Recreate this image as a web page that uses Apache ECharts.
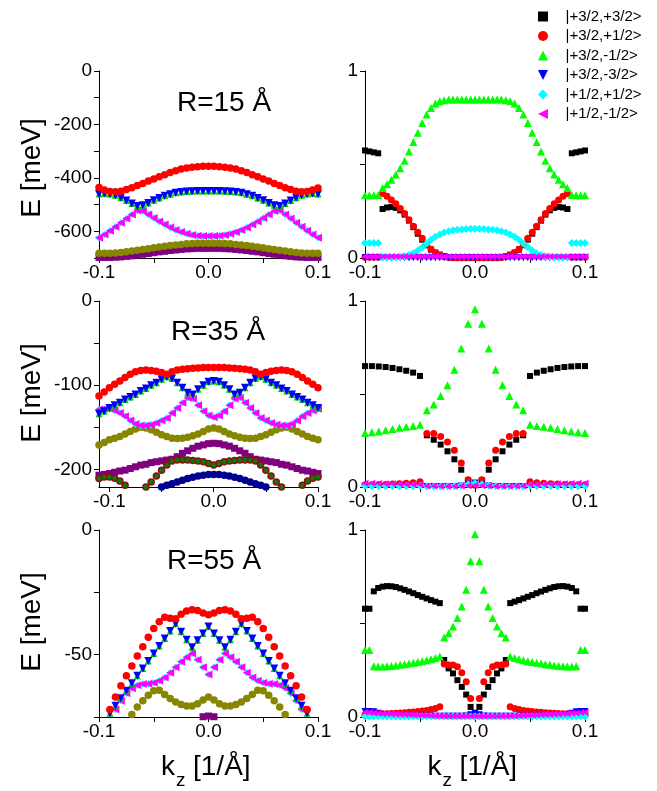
<!DOCTYPE html>
<html>
<head>
<meta charset="utf-8">
<script src="https://cdn.jsdelivr.net/npm/echarts@6/dist/echarts.min.js"></script>
<style>html,body{margin:0;padding:0;background:#fff;}#c{width:657px;height:791px;}</style>
</head>
<body>
<div id="c"></div>
<script>
// ---------- k_z grids ----------
const kzL = [-0.1,-0.095,-0.09,-0.085,-0.08,-0.075,-0.07,-0.065,-0.06,-0.055,-0.05,-0.045,-0.04,-0.035,-0.03,-0.025,-0.02,-0.015,-0.01,-0.005,0,0.005,0.01,0.015,0.02,0.025,0.03,0.035,0.04,0.045,0.05,0.055,0.06,0.065,0.07,0.075,0.08,0.085,0.09,0.095,0.1];
const kzM = [-0.11,-0.105,-0.1,-0.095,-0.09,-0.085,-0.08,-0.075,-0.07,-0.065,-0.06,-0.055,-0.05,-0.045,-0.04,-0.035,-0.03,-0.025,-0.02,-0.015,-0.01,-0.005,0,0.005,0.01,0.015,0.02,0.025,0.03,0.035,0.04,0.045,0.05,0.055,0.06,0.065,0.07,0.075,0.08,0.085,0.09,0.095,0.1];
const kzR = [-0.1,-0.096,-0.092,-0.088,-0.084,-0.08,-0.076,-0.072,-0.068,-0.064,-0.06,-0.056,-0.052,-0.048,-0.044,-0.04,-0.036,-0.032,-0.028,-0.024,-0.02,-0.016,-0.012,-0.008,-0.004,0,0.004,0.008,0.012,0.016,0.02,0.024,0.028,0.032,0.036,0.04,0.044,0.048,0.052,0.056,0.06,0.064,0.068,0.072,0.076,0.08,0.084,0.088,0.092,0.096,0.1];
const kzR6 = [-0.1,-0.09375,-0.0875,-0.08125,-0.075,-0.06875,-0.0625,-0.05625,-0.05,-0.04375,-0.0375,-0.03125,-0.025,-0.01875,-0.0125,-0.00625,0,0.00625,0.0125,0.01875,0.025,0.03125,0.0375,0.04375,0.05,0.05625,0.0625,0.06875,0.075,0.08125,0.0875,0.09375,0.1];

// ---------- R=15 Å energies [meV] ----------
const red15 = [-436,-445,-451,-452,-450,-444,-437,-429,-421,-412,-404,-396,-388,-380,-373,-367,-363,-360,-358,-357,-357,-357,-358,-360,-363,-367,-373,-380,-388,-396,-404,-412,-421,-429,-437,-444,-450,-452,-451,-445,-438];
const blue15 = [-460,-459,-460,-465,-474,-485,-496,-505,-503,-494,-484,-475,-467,-461,-456,-453,-451,-450,-449,-449,-449,-449,-449,-450,-451,-453,-456,-461,-467,-475,-484,-494,-503,-505,-496,-485,-474,-465,-460,-459,-460];
const mag15 = [-624,-612,-598,-583,-568,-552,-537,-522,-524,-537,-550,-563,-575,-586,-595,-603,-609,-614,-617,-618,-618,-618,-617,-614,-609,-603,-595,-586,-575,-563,-550,-537,-524,-522,-537,-552,-568,-583,-598,-612,-624];
const olive15 = [-682,-682,-682,-681,-679,-677,-674,-671,-668,-665,-662,-659,-656,-653,-651,-649,-647,-646,-645,-645,-645,-645,-645,-646,-647,-649,-651,-653,-656,-659,-662,-665,-668,-671,-674,-677,-679,-681,-682,-682,-682];
const purple15 = [-698,-698,-698,-697,-696,-694,-692,-689,-686,-683,-680,-677,-675,-672,-670,-668,-666,-665,-664,-664,-664,-664,-664,-665,-666,-668,-670,-672,-675,-677,-680,-683,-686,-689,-692,-694,-696,-697,-698,-698,-698];

// ---------- R=35 Å energies [meV] ----------
const red35 = [-113,-108,-103,-99,-95,-91,-87,-84,-82.5,-82,-82.5,-83.5,-85,-87,-84,-82,-81,-80.5,-80,-79.5,-79,-79,-79,-79,-79,-79.5,-80,-80.5,-81,-82,-84,-87,-85,-83.5,-82.5,-82,-82.5,-84,-87,-91,-95,-99,-103];
const blue35 = [-134,-131,-127,-124,-121,-117,-114,-111,-107,-104,-100,-97,-93,-90,-92,-97,-103,-109,-111,-105,-100,-96,-95,-96,-100,-105,-111,-109,-103,-97,-92,-90,-93,-97,-100,-104,-107,-111,-114,-117,-121,-124,-127];
const mag35 = [-129,-128,-128,-130,-133,-137,-142,-146,-148,-148,-147,-145,-142,-139,-133,-127,-121,-115,-116,-124,-131,-136,-138,-136,-131,-124,-116,-115,-121,-127,-133,-139,-142,-145,-147,-148,-148,-146,-142,-137,-133,-130,-128];
const olive35 = [-171,-168,-165,-163,-161,-158,-155,-152,-150,-151,-153,-156,-159,-161,-163,-163.5,-163,-162,-160,-158,-155,-152,-151,-152,-155,-158,-160,-162,-163,-163.5,-163,-161,-159,-156,-153,-151,-150,-152,-155,-158,-161,-163,-165];
const purple35 = [-207,-206,-205,-203.5,-202,-201,-199,-197,-195,-194,-192,-191,-190,-189,-188,-185,-181,-178,-175,-172.5,-171,-169.5,-169,-169.5,-171,-172.5,-175,-178,-181,-185,-188,-189,-190,-191,-192,-194,-195,-197,-199,-201,-202,-203.5,-205];
const green35 = [-211,-209,-209,-210.5,-214,-219,-222,-230,-229,-221,-215,-208,-201,-195,-190,-189,-189,-189,-189.5,-190,-191,-193,-195,-193,-191,-190,-189.5,-189,-189,-189,-190,-195,-201,-208,-215,-221,-229,-230,-222,-219,-214,-210.5,-209];
const navy35 = [-233,-234,-235,-236,-237,-237,-236,-235,-233,-230,-227,-224,-221,-219,-217,-215,-213,-211,-209.5,-208,-207,-206,-206,-206,-207,-208,-209.5,-211,-213,-215,-217,-219,-221,-224,-227,-230,-233,-235,-236,-237,-237,-236,-235];

// ---------- R=55 Å energies [meV] ----------
const red55 = [-85,-78,-72,-67,-62.5,-58.5,-54.5,-50.5,-46.8,-43,-39.5,-36.8,-35,-35.4,-35.6,-33.8,-32.5,-32,-32.3,-33.3,-34,-33.3,-32.3,-32,-32.5,-33.8,-35.6,-35.4,-35,-36.8,-39.5,-43,-46.8,-50.5,-54.5,-58.5,-62.5,-67,-72,-78,-85];
const blue55 = [-81,-77,-73.5,-70.5,-67.5,-64.5,-61.5,-58.5,-55.5,-52.5,-49.5,-46.5,-43.5,-40.5,-37.6,-40.8,-44,-47,-44.2,-41.5,-38.7,-41.5,-44.2,-47,-44,-40.8,-37.6,-40.5,-43.5,-46.5,-49.5,-52.5,-55.5,-58.5,-61.5,-64.5,-67.5,-70.5,-73.5,-77,-81];
const mag55 = [-85,-80,-76,-72,-68.5,-65.5,-63.5,-62.3,-61.8,-61.7,-61.3,-60.5,-59.2,-57.3,-55,-52.8,-51,-49.5,-52,-55,-58,-55,-52,-49.5,-51,-52.8,-55,-57.3,-59.2,-60.5,-61.3,-61.7,-61.8,-62.3,-63.5,-65.5,-68.5,-72,-76,-80,-85];
const olive55 = [-92,-89,-86,-83,-80,-77,-74,-71,-68.5,-66.3,-64.5,-64.3,-66,-67.6,-69,-70,-70.6,-70.6,-69.7,-68.2,-67,-68.2,-69.7,-70.6,-70.6,-70,-69,-67.6,-66,-64.3,-64.5,-66.3,-68.5,-71,-74,-77,-80,-83,-86,-89,-92];
const purple55 = [-95,-94,-93,-92,-91,-90,-89,-88,-87,-86,-85,-84,-83,-82,-81,-80,-79,-77.5,-76,-74.9,-74.6,-74.9,-76,-77.5,-79,-80,-81,-82,-83,-84,-85,-86,-87,-88,-89,-90,-91,-92,-93,-94,-95];

// ---------- weights, R=15 Å ----------
const wTR_pp = [0.575,0.57,0.565,0.56,0.262,0.27,0.273,0.268,0.255,0.232,0.2,0.165,0.13,0.098,0.068,0.045,0.029,0.018,0.01,0.005,0.002,0,0,0,0,0,0,0,0,0,0.002,0.005,0.01,0.018,0.029,0.045,0.068,0.098,0.13,0.165,0.2,0.232,0.255,0.268,0.273,0.27,0.262,0.56,0.565,0.57,0.575];
const wTR_p1 = [0.004,0.004,0.004,0.004,0.345,0.33,0.31,0.29,0.265,0.238,0.205,0.17,0.138,0.105,0.073,0.047,0.028,0.015,0.007,0.003,0.001,0.001,0.001,0.001,0.001,0.001,0.001,0.001,0.001,0.001,0.001,0.003,0.007,0.015,0.028,0.047,0.073,0.105,0.138,0.17,0.205,0.238,0.265,0.29,0.31,0.33,0.345,0.004,0.004,0.004,0.004];
const wTR_m1 = [0.335,0.335,0.336,0.337,0.375,0.395,0.418,0.447,0.48,0.52,0.57,0.62,0.67,0.722,0.768,0.802,0.826,0.838,0.844,0.847,0.848,0.848,0.848,0.848,0.848,0.848,0.848,0.848,0.848,0.848,0.848,0.847,0.844,0.838,0.826,0.802,0.768,0.722,0.67,0.62,0.57,0.52,0.48,0.447,0.418,0.395,0.375,0.337,0.336,0.335,0.335];
const wTR_m3 = [0.002,0.002,0.002,0.002,0.002,0.002,0.002,0.002,0.002,0.002,0.002,0.002,0.002,0.002,0.002,0.002,0.002,0.002,0.002,0.002,0.002,0.002,0.002,0.002,0.002,0.002,0.002,0.002,0.002,0.002,0.002,0.002,0.002,0.002,0.002,0.002,0.002,0.002,0.002,0.002,0.002,0.002,0.002,0.002,0.002,0.002,0.002,0.002,0.002,0.002,0.002];
const wTR_lp = [0.08,0.08,0.08,0.08,0.003,0.002,0.002,0.003,0.005,0.009,0.016,0.026,0.04,0.058,0.078,0.097,0.113,0.126,0.136,0.143,0.148,0.151,0.153,0.155,0.156,0.156,0.156,0.155,0.153,0.151,0.148,0.143,0.136,0.126,0.113,0.097,0.078,0.058,0.04,0.026,0.016,0.009,0.005,0.003,0.002,0.002,0.003,0.08,0.08,0.08,0.08];
const wTR_lm = [0.008,0.008,0.008,0.008,0.008,0.008,0.008,0.008,0.008,0.008,0.008,0.008,0.008,0.008,0.008,0.008,0.008,0.008,0.008,0.008,0.008,0.008,0.008,0.008,0.008,0.008,0.008,0.008,0.008,0.008,0.008,0.008,0.008,0.008,0.008,0.008,0.008,0.008,0.008,0.008,0.008,0.008,0.008,0.008,0.008,0.008,0.008,0.008,0.008,0.008,0.008];

// ---------- weights, R=35 Å ----------
const wMR_pp = [0.65,0.65,0.648,0.645,0.64,0.633,0.625,0.615,0.597,0.278,0.254,0.228,0.192,0.149,0.093,0.036,0.012,0.036,0.093,0.149,0.192,0.228,0.254,0.278,0.597,0.615,0.625,0.633,0.64,0.645,0.648,0.65,0.65];
const wMR_p1 = [0.012,0.012,0.013,0.014,0.016,0.018,0.02,0.023,0.028,0.287,0.287,0.272,0.242,0.197,0.129,0.039,0.01,0.039,0.129,0.197,0.242,0.272,0.287,0.287,0.028,0.023,0.02,0.018,0.016,0.014,0.013,0.012,0.012];
const wMR_m1 = [0.29,0.294,0.299,0.305,0.312,0.319,0.324,0.328,0.335,0.412,0.443,0.489,0.547,0.631,0.744,0.878,0.955,0.878,0.744,0.631,0.547,0.489,0.443,0.412,0.335,0.328,0.324,0.319,0.312,0.305,0.299,0.294,0.29];
const wMR_m3 = [0.003,0.003,0.003,0.003,0.003,0.003,0.003,0.003,0.003,0.003,0.003,0.003,0.003,0.003,0.006,0.015,0.022,0.015,0.006,0.003,0.003,0.003,0.003,0.003,0.003,0.003,0.003,0.003,0.003,0.003,0.003,0.003,0.003];
const wMR_lp = [0.006,0.006,0.006,0.006,0.006,0.006,0.006,0.006,0.007,0.003,0.003,0.003,0.004,0.005,0.008,0.015,0.02,0.015,0.008,0.005,0.004,0.003,0.003,0.003,0.007,0.006,0.006,0.006,0.006,0.006,0.006,0.006,0.006];
const wMR_lm = [0.02,0.02,0.019,0.018,0.017,0.016,0.015,0.014,0.013,0.006,0.005,0.004,0.004,0.004,0.005,0.007,0.01,0.007,0.005,0.004,0.004,0.004,0.005,0.006,0.013,0.014,0.015,0.016,0.017,0.018,0.019,0.02,0.02];

// ---------- weights, R=55 Å ----------
const wBR_pp = [0.579,0.579,0.672,0.69,0.697,0.7,0.699,0.695,0.688,0.68,0.671,0.662,0.652,0.643,0.634,0.625,0.617,0.609,0.305,0.26,0.233,0.197,0.161,0.12,0.054,0.012,0.054,0.12,0.161,0.197,0.233,0.26,0.305,0.609,0.617,0.625,0.634,0.643,0.652,0.662,0.671,0.68,0.688,0.695,0.699,0.7,0.697,0.69,0.672,0.579,0.579];
const wBR_p1 = [0.01,0.01,0.015,0.016,0.017,0.018,0.019,0.02,0.022,0.023,0.025,0.027,0.029,0.032,0.035,0.04,0.046,0.055,0.283,0.278,0.278,0.269,0.237,0.188,0.099,0.02,0.099,0.188,0.237,0.269,0.278,0.278,0.283,0.055,0.046,0.04,0.035,0.032,0.029,0.027,0.025,0.023,0.022,0.02,0.019,0.018,0.017,0.016,0.015,0.01,0.01];
const wBR_m1 = [0.358,0.358,0.272,0.27,0.27,0.271,0.273,0.276,0.279,0.282,0.286,0.29,0.294,0.298,0.303,0.309,0.316,0.323,0.425,0.448,0.484,0.529,0.591,0.681,0.833,0.977,0.833,0.681,0.591,0.529,0.484,0.448,0.425,0.323,0.316,0.309,0.303,0.298,0.294,0.29,0.286,0.282,0.279,0.276,0.273,0.271,0.27,0.27,0.272,0.358,0.358];
const wBR_m3 = [0.03,0.03,0.028,0.02,0.012,0.008,0.004,0.004,0.004,0.004,0.004,0.004,0.004,0.004,0.004,0.004,0.004,0.004,0.004,0.004,0.004,0.004,0.004,0.006,0.012,0.02,0.012,0.006,0.004,0.004,0.004,0.004,0.004,0.004,0.004,0.004,0.004,0.004,0.004,0.004,0.004,0.004,0.004,0.004,0.004,0.008,0.012,0.02,0.028,0.03,0.03];
const wBR_lp = [0.003,0.003,0.003,0.003,0.003,0.003,0.003,0.003,0.003,0.003,0.003,0.003,0.003,0.003,0.003,0.003,0.003,0.003,0.003,0.003,0.003,0.003,0.003,0.003,0.003,0.003,0.003,0.003,0.003,0.003,0.003,0.003,0.003,0.003,0.003,0.003,0.003,0.003,0.003,0.003,0.003,0.003,0.003,0.003,0.003,0.003,0.003,0.003,0.003,0.003,0.003];
const wBR_lm = [0.025,0.024,0.022,0.02,0.018,0.017,0.016,0.015,0.014,0.013,0.012,0.011,0.01,0.009,0.008,0.007,0.006,0.006,0.004,0.004,0.004,0.004,0.004,0.004,0.004,0.004,0.004,0.004,0.004,0.004,0.004,0.004,0.004,0.006,0.006,0.007,0.008,0.009,0.01,0.011,0.012,0.013,0.014,0.015,0.016,0.017,0.018,0.02,0.022,0.024,0.025];

// ---------- labels ----------
const stateNames = ['|+3/2,+3/2>','|+3/2,+1/2>','|+3/2,-1/2>','|+3/2,-3/2>','|+1/2,+1/2>','|+1/2,-1/2>'];
const panelTitles = ['R=15 Å','R=35 Å','R=55 Å'];
const xTickLabels = [-0.1, 0, 0.1];

const FONT = '"Liberation Sans", Arial, Helvetica, sans-serif';

function pairs(xs, ys){ return xs.map((x,i)=>[x, ys[i]]); }
function S(name, g, xs, ys, symbol, color, size, rot, extra){
  return Object.assign({
    type:'scatter', name:name, xAxisIndex:g, yAxisIndex:g,
    data: pairs(xs, ys), symbol:symbol, symbolSize:size, symbolRotate:rot||0,
    itemStyle:{color:color, opacity:1}, silent:true, animation:false, z:2
  }, extra||{});
}

const grids = [
  {left:99, top:71, width:219, height:187},
  {left:365, top:71, width:220, height:187},
  {left:99, top:301, width:219, height:186},
  {left:365, top:301, width:220, height:186},
  {left:99, top:530, width:219, height:187},
  {left:365, top:530, width:220, height:187}
];

const axisLine = {show:true, onZero:false, lineStyle:{color:'#000', width:1}};
const tickStyle = {show:true, inside:false, length:5, lineStyle:{color:'#000', width:1}};
const lab = {color:'#000', fontSize:19, fontFamily:FONT};

function xAx(g, min){
  const a = {type:'value', gridIndex:g, min:min, max:0.1, axisLine:axisLine, splitLine:{show:false},
    axisTick:Object.assign({}, tickStyle),
    axisLabel:Object.assign({margin:5, customValues:xTickLabels, formatter:v=>Number(v).toFixed(1)}, lab)};
  if (min === -0.1) { a.interval = 0.05; }
  else { a.axisTick.customValues = [-0.1,-0.05,0,0.05,0.1]; }
  return a;
}
function yAx(g, min, max, opts){
  return Object.assign({type:'value', gridIndex:g, min:min, max:max, axisLine:axisLine, splitLine:{show:false}},
    {axisTick:Object.assign({}, tickStyle, opts.tick||{}),
     axisLabel:Object.assign({margin:7, customValues:opts.labels}, lab)},
    opts.interval ? {interval:opts.interval} : {});
}

const xAxes = [xAx(0,-0.1), xAx(1,-0.1), xAx(2,-0.11), xAx(3,-0.1), xAx(4,-0.1), xAx(5,-0.1)];
const yAxes = [
  yAx(0,-700,0,{interval:100, labels:[0,-200,-400,-600]}),
  yAx(1,0,1,{interval:0.5, labels:[0,1]}),
  yAx(2,-221,0,{labels:[0,-100,-200], tick:{customValues:[0,-50,-100,-150,-200]}}),
  yAx(3,0,1,{interval:0.5, labels:[0,1]}),
  yAx(4,-75,0,{interval:25, labels:[0,-50]}),
  yAx(5,0,1,{interval:0.5, labels:[0,1]})
];

const OLIVE = '#868600', PURPLE = '#800080';
const series = [];
// ---- left panels: bands ----
function bandPanel(g, xs, b){
  if (b.purple) series.push(S('purple'+g, g, xs, b.purple, 'rect', PURPLE, 7));
  if (b.olive) series.push(S('olive'+g, g, xs, b.olive, 'circle', OLIVE, 7.5));
  if (b.navy) series.push(S('navy'+g, g, xs, b.navy, 'circle', '#000090', 7.5));
  if (b.green) { series.push(S('wine'+g, g, xs, b.green, 'circle', '#8b1010', 7.5));
                 series.push(S('dgreen'+g, g, xs, b.green, 'circle', '#0a7a0a', 4.5)); }
  series.push(S('cy'+g, g, xs, b.mag, 'diamond', '#00ffff', 7.5));
  series.push(S('mg'+g, g, xs, b.mag, 'triangle', '#ff00ff', 8, 90));
  series.push(S('gr'+g, g, xs, b.blue, 'triangle', '#00cc00', 7));
  series.push(S('bl'+g, g, xs, b.blue, 'triangle', '#0000ff', 8, 180));
  series.push(S('rd'+g, g, xs, b.red, 'circle', '#ff0000', 7.5));
}
bandPanel(0, kzL, {red:red15, blue:blue15, mag:mag15, olive:olive15, purple:purple15});
bandPanel(2, kzM, {red:red35, blue:blue35, mag:mag35, olive:olive35, purple:purple35, green:green35, navy:navy35});
bandPanel(4, kzL, {red:red55, blue:blue55, mag:mag55, olive:olive55, purple:purple55});

// ---- right panels: weights ----
const styles = [
  ['rect','#000000',6,0],
  ['circle','#ff0000',7,0],
  ['triangle','#00ff00',8,0],
  ['triangle','#0000ff',7,180],
  ['diamond','#00ffff',8,0],
  ['triangle','#ff00ff',7,90]
];
function weightPanel(g, xs, ws){
  ws.forEach((w,i)=>{ const s = styles[i]; series.push(S(stateNames[i], g, xs, w, s[0], s[1], s[2], s[3])); });
}
weightPanel(1, kzR, [wTR_pp, wTR_p1, wTR_m1, wTR_m3, wTR_lp, wTR_lm]);
weightPanel(3, kzR6, [wMR_pp, wMR_p1, wMR_m1, wMR_m3, wMR_lp, wMR_lm]);
weightPanel(5, kzR, [wBR_pp, wBR_p1, wBR_m1, wBR_m3, wBR_lp, wBR_lm]);

function txt(t, x, y, size, align, rot){
  return {type:'text', x:x, y:y, rotation:rot||0, silent:true, z:10,
    style:{text:t, fill:'#000', font: size+'px '+FONT, textAlign:align||'center', textVerticalAlign:'middle', align:align||'center', verticalAlign:'middle'}};
}
const graphics = [
  txt(panelTitles[0], 224, 103, 28),
  txt(panelTitles[1], 218, 332, 28),
  txt(panelTitles[2], 214, 561, 28),
  txt('E [meV]', 32, 168, 28, 'center', Math.PI/2),
  txt('E [meV]', 32, 393, 28, 'center', Math.PI/2),
  txt('E [meV]', 32, 622, 28, 'center', Math.PI/2),
  txt('k', 161, 767, 28, 'left'),
  txt('z', 176, 781, 19, 'left'),
  txt('[1/Å]', 193, 767, 28, 'left'),
  txt('k', 427.5, 767, 28, 'left'),
  txt('z', 442.5, 781, 19, 'left'),
  txt('[1/Å]', 459.5, 767, 28, 'left')
];

const legendIcons = ['rect','circle','triangle','path://M0,0L10,0L5,10Z','diamond','path://M10,0L10,10L0,5Z'];

const chart = echarts.init(document.getElementById('c'), null, {renderer:'canvas'});
chart.setOption({
  animation:false,
  backgroundColor:'#fff',
  grid:grids,
  xAxis:xAxes,
  yAxis:yAxes,
  legend:{
    data:stateNames.map((n,i)=>({name:n, icon:legendIcons[i]})),
    orient:'vertical', left:533, top:4, itemWidth:10, itemHeight:10, itemGap:4.5,
    symbolKeepAspect:true, selectedMode:false,
    formatter: n => '   ' + n,
    textStyle:{fontSize:15, fontFamily:FONT, color:'#000'}
  },
  series:series,
  graphic:graphics
});
</script>
</body>
</html>
